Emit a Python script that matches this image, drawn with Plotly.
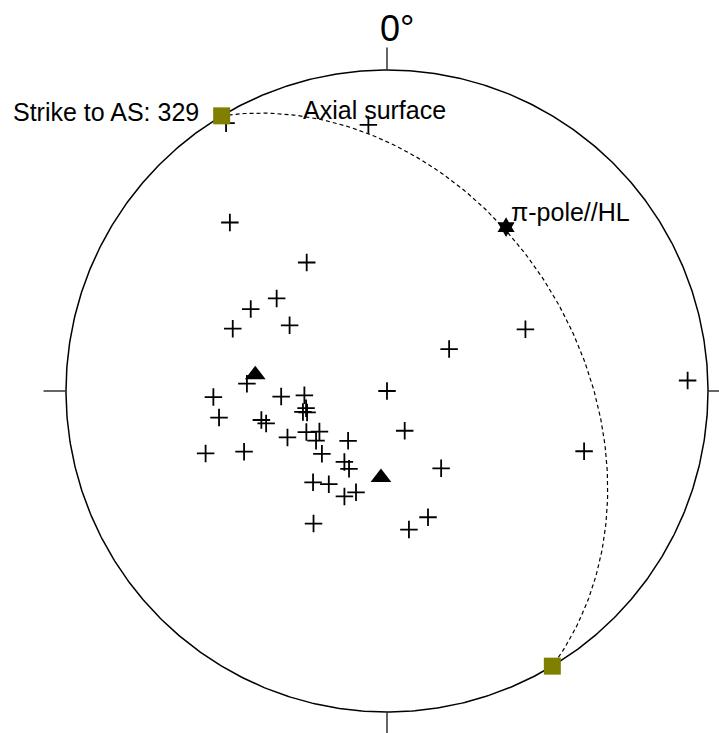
import numpy as np
import plotly.graph_objects as go

# Poles to bedding / foliation, lower hemisphere (trend, plunge in degrees)
pole_trend = [329, 356, 317, 328, 310, 301, 292, 304, 56, 66,
              107, 88, 273, 268, 267, 267, 0, 261, 256, 258,
              255, 257, 255, 245, 243, 239, 235, 226, 218, 156,
              145, 211, 206, 219, 212, 202, 197, 209, 171, 162,
              251, 247]
pole_plunge = [3, 18, 29, 51, 53, 49, 47, 60, 71, 51,
               36, 7, 54, 45, 63, 69, 90, 46, 68, 69,
               69, 57, 58, 62, 67, 70, 68, 67, 74, 79,
               66, 69, 68, 60, 62, 61, 63, 51, 54, 56,
               40, 50]

# Mean limb orientations (trend, plunge)
mean_trend = [277, 184]
mean_plunge = [56, 68]

# Pi-pole / hinge line (trend, plunge)
pi_trend = [36]
pi_plunge = [37]

# Axial surface (right-hand rule strike, dip)
as_strike = 329
as_dip = 40

FONT = "Liberation Sans, Arial, sans-serif"


def schmidt(trend, plunge):
    """Equal-area (Schmidt) lower-hemisphere projection."""
    t = np.radians(np.asarray(trend, dtype=float))
    p = np.radians(np.asarray(plunge, dtype=float))
    r = np.sqrt(2.0) * np.sin((np.pi / 2 - p) / 2)
    return r * np.sin(t), r * np.cos(t)


def great_circle(strike, dip, n=181):
    s = np.radians(strike)
    dd = np.radians(strike + 90)
    d = np.radians(dip)
    sv = np.array([np.sin(s), np.cos(s), 0.0])
    dv = np.array([np.cos(d) * np.sin(dd), np.cos(d) * np.cos(dd), np.sin(d)])
    th = np.linspace(0, np.pi, n)
    v = np.outer(np.cos(th), sv) + np.outer(np.sin(th), dv)
    tr = np.degrees(np.arctan2(v[:, 0], v[:, 1]))
    pl = np.degrees(np.arcsin(np.clip(v[:, 2], -1, 1)))
    return schmidt(tr, pl)


fig = go.Figure()

# Primitive circle
ang = np.linspace(0, 2 * np.pi, 721)
fig.add_trace(go.Scatter(x=np.sin(ang), y=np.cos(ang), mode="lines",
                         line=dict(color="black", width=1.5),
                         hoverinfo="skip", showlegend=False))

# Cardinal ticks
tick_len = 0.07
for az in [0, 90, 180, 270]:
    a = np.radians(az)
    fig.add_trace(go.Scatter(x=[np.sin(a), (1 + tick_len) * np.sin(a)],
                             y=[np.cos(a), (1 + tick_len) * np.cos(a)],
                             mode="lines", line=dict(color="#333333", width=1.5),
                             hoverinfo="skip", showlegend=False))

# Axial surface great circle
gx, gy = great_circle(as_strike, as_dip)
fig.add_trace(go.Scatter(x=gx, y=gy, mode="lines",
                         line=dict(color="black", width=1.2, dash="4px,3px"),
                         hoverinfo="skip", showlegend=False))

# Poles
px, py = schmidt(pole_trend, pole_plunge)
fig.add_trace(go.Scatter(x=px, y=py, mode="markers",
                         marker=dict(symbol="cross-thin", size=12.5,
                                     line=dict(color="black", width=1.8)),
                         showlegend=False))

# Mean orientations
mx, my = schmidt(mean_trend, mean_plunge)
fig.add_trace(go.Scatter(x=mx, y=my, mode="markers",
                         marker=dict(symbol="triangle-up", size=18, color="black"),
                         showlegend=False))

# Pi-pole
qx, qy = schmidt(pi_trend, pi_plunge)
fig.add_trace(go.Scatter(x=qx, y=qy, mode="markers",
                         marker=dict(symbol="hexagram", size=15, color="black"),
                         showlegend=False))

# Strike of axial surface on the primitive
sx, sy = schmidt([as_strike, as_strike - 180], [0, 0])
fig.add_trace(go.Scatter(x=sx, y=sy, mode="markers",
                         marker=dict(symbol="square", size=17, color="#808000"),
                         showlegend=False))

annotations = [
    dict(x=0, y=1 + tick_len, text="0°", showarrow=False,
         xanchor="center", yanchor="bottom", xshift=10, yshift=-3,
         font=dict(family=FONT, size=36, color="black")),
    dict(x=sx[0], y=sy[0], text=f"Strike to AS: {as_strike}", showarrow=False,
         xanchor="right", yanchor="middle", xshift=-21, yshift=4,
         font=dict(family=FONT, size=25, color="black")),
    dict(x=-0.268, y=0.875, text="Axial surface", showarrow=False,
         xanchor="left", yanchor="middle",
         font=dict(family=FONT, size=25, color="black")),
    dict(x=qx[0], y=qy[0], text="π-pole//HL", showarrow=False,
         xanchor="left", yanchor="middle", xshift=3, yshift=15,
         font=dict(family=FONT, size=25, color="black")),
]

fig.update_layout(
    width=719, height=733,
    margin=dict(l=0, r=0, t=0, b=0),
    paper_bgcolor="white", plot_bgcolor="white",
    xaxis=dict(range=[-387 / 321, 332 / 321], visible=False, fixedrange=True),
    yaxis=dict(range=[-342 / 321, 391 / 321], visible=False, fixedrange=True),
    annotations=annotations,
    showlegend=False,
)

fig.write_html("out.html")
